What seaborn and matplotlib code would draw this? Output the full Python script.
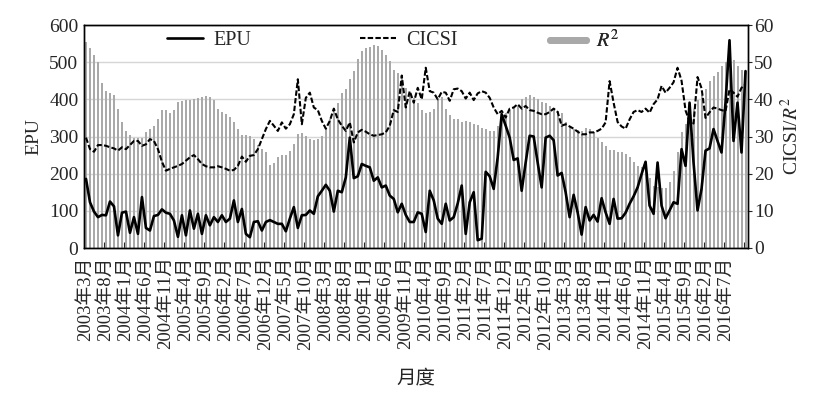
import numpy as np
import pandas as pd
import matplotlib
matplotlib.use("Agg")
import matplotlib.pyplot as plt
import seaborn as sns
from matplotlib.lines import Line2D

# ---------------- data ----------------
months = pd.period_range("2003-03", periods=166, freq="M")
month_labels = [f"{p.year}年{p.month}月" for p in months]

epu = [186, 123, 98, 83, 89, 88, 125, 112, 34, 95, 98, 41, 83, 38, 137, 54, 47, 86, 89, 104, 95, 92, 74, 30,
       88, 34, 101, 52, 92, 38, 88, 61, 83, 70, 88, 70, 79, 128, 70, 105, 38, 29, 70, 72, 47, 70, 75,
       70, 65, 65, 45, 79, 110, 54, 88, 89, 101, 92, 139, 154, 170, 154, 98, 154, 150, 190, 297, 188, 193, 226, 221,
       217, 181, 190, 163, 168, 141, 132, 96, 119, 89, 70, 70, 96, 92, 43, 154, 128, 79, 65, 119, 74, 83, 120,
       168, 38, 123, 150, 21, 25, 205, 193, 159, 244, 360, 329, 297, 237, 241, 154, 230, 302, 300, 230, 163, 297, 302, 290,
       195, 202, 150, 83, 143, 96, 36, 110, 74, 89, 71, 134, 96, 65, 132, 79, 80, 95, 119, 139, 163, 199, 232,
       114, 92, 230, 114, 80, 101, 123, 119, 266, 221, 391, 230, 101, 159, 262, 268, 320, 288, 257, 391, 559, 288, 391, 257, 476]

cicsi = [29.7, 26.6, 25.9, 27.7, 27.7, 27.5, 27.1, 26.8, 26.2, 27.1, 26.6, 27.7, 28.8, 28.8, 27.5, 27.9, 29.3, 28.8, 26.6, 23.2, 20.8, 21.3, 21.7, 22.1,
         22.6, 23.5, 24.4, 25.0, 23.9, 22.6, 22.0, 21.7, 21.7, 22.0, 21.7, 21.3, 20.8, 21.0, 22.1, 24.6, 23.2, 24.8, 25.0, 26.6, 29.3, 32.0, 34.2,
         32.9, 31.5, 33.8, 32.1, 33.3, 36.0, 45.4, 33.3, 40.4, 41.8, 37.8, 37.1, 34.2, 32.1, 34.2, 37.5, 34.6, 32.9, 31.5, 33.8, 28.4, 31.1, 31.8, 31.3,
         30.6, 30.2, 30.4, 30.6, 31.1, 32.9, 37.1, 36.6, 46.4, 37.8, 42.2, 39.1, 43.1, 40.0, 48.5, 42.2, 41.8, 40.0, 42.0, 41.8, 39.6, 42.7, 42.9,
         42.2, 40.2, 41.8, 39.8, 41.6, 42.2, 41.8, 40.4, 37.8, 36.0, 36.9, 35.1, 37.5, 37.8, 38.7, 37.5, 38.2, 37.1, 36.9, 36.4, 36.0, 36.0, 36.6, 37.5,
         36.6, 32.9, 33.3, 32.7, 32.1, 31.3, 30.6, 30.6, 31.1, 31.1, 31.5, 32.1, 33.8, 44.9, 39.1, 33.9, 32.7, 32.1, 34.6, 36.6, 37.1, 36.6, 37.5,
         36.4, 38.7, 40.0, 43.6, 41.8, 43.1, 44.6, 48.5, 45.0, 37.0, 34.0, 33.5, 46.0, 43.0, 35.0, 36.5, 37.8, 37.5, 37.1, 36.8, 42.7, 41.8, 40.7, 43.1, 44.0]

r2 = [55.4, 53.7, 51.8, 50.1, 44.3, 42.2, 41.8, 41.2, 37.5, 33.9, 31.4, 30.4, 29.7, 29.5, 29.7, 31.1, 32.0, 32.7, 34.6, 37.1, 37.1, 36.3, 37.1, 39.4,
      39.5, 39.7, 39.9, 40.1, 40.3, 40.6, 40.8, 40.5, 39.9, 37.5, 36.6, 36.0, 35.3, 33.9, 32.1, 30.5, 30.4, 30.2, 29.3, 27.7, 26.6, 25.7, 22.3,
      23.0, 24.4, 25.0, 25.0, 26.2, 27.9, 30.6, 30.9, 30.2, 29.3, 29.1, 29.3, 30.2, 32.0, 34.6, 37.8, 39.1, 41.8, 42.9, 45.4, 47.6, 50.9, 52.9, 53.8,
      54.1, 54.5, 54.3, 53.4, 52.0, 50.3, 48.0, 47.1, 45.8, 43.1, 41.3, 40.4, 39.1, 37.1, 36.4, 36.6, 37.5, 40.2, 40.7, 37.5, 35.7, 34.8, 34.6,
      33.9, 34.2, 33.9, 33.3, 33.0, 32.4, 32.0, 31.5, 31.5, 32.9, 34.2, 36.4, 37.1, 37.8, 38.2, 40.2, 40.7, 41.1, 40.7, 40.2, 39.3, 39.1, 38.2, 37.8,
      36.9, 36.3, 33.8, 32.9, 32.0, 31.8, 31.5, 32.4, 32.1, 31.1, 29.5, 28.6, 27.5, 26.4, 26.4, 25.9, 25.7, 25.3, 24.4, 23.2, 22.1, 21.7, 21.3,
      18.8, 16.8, 16.3, 16.1, 16.1, 17.7, 20.8, 25.7, 31.1, 33.3, 39.1, 37.5, 39.8, 41.3, 42.9, 44.9, 46.3, 47.3, 48.9, 50.0, 50.5, 50.5, 49.1, 48.0, 47.6]

tick_labels = ["2003年3月", "2003年8月", "2004年1月", "2004年6月", "2004年11月", "2005年4月", "2005年9月",
               "2006年2月", "2006年7月", "2006年12月", "2007年5月", "2007年10月", "2008年3月", "2008年8月",
               "2009年1月", "2009年6月", "2009年11月", "2010年4月", "2010年9月", "2011年2月", "2011年7月",
               "2011年12月", "2012年5月", "2012年10月", "2013年3月", "2013年8月", "2014年1月", "2014年6月",
               "2014年11月", "2015年4月", "2015年9月", "2016年2月", "2016年7月"]

# ---------------- style ----------------
sns.set_theme(style="white")
plt.rcParams["font.family"] = ["Liberation Serif", "Noto Sans CJK SC"]
plt.rcParams["mathtext.fontset"] = "stix"
plt.rcParams["axes.unicode_minus"] = False

df = pd.DataFrame({"idx": np.arange(len(month_labels)), "month": month_labels,
                   "EPU": epu, "CICSI": cicsi, "R2": r2})

fig = plt.figure(figsize=(8.3, 3.94), dpi=100)
ax = fig.add_axes([84 / 830, 1 - 248 / 394, 663.5 / 830, 223 / 394])

bar_color = "#a9a9a9"
sns.barplot(data=df, x="idx", y="R2", native_scale=True, width=0.5, color=bar_color,
            saturation=1, ax=ax, zorder=2, linewidth=0)
sns.lineplot(data=df, x="idx", y="CICSI", ax=ax, color="black", linewidth=1.5,
             linestyle=(0, (2.6, 1.1)), zorder=4)

ax2 = ax.twinx()
sns.lineplot(data=df, x="idx", y="EPU", ax=ax2, color="black", linewidth=1.9, zorder=5)

# right axis (R2 / CICSI)
ax.yaxis.tick_right()
ax.yaxis.set_label_position("right")
ax.set_ylim(0, 60)
ax.set_yticks(range(0, 61, 10))
ax.yaxis.grid(True, color="#d6d6d6", linewidth=1.0)
ax.set_axisbelow(True)
ax.set_ylabel("CICSI/$R^2$", fontsize=14, rotation=90, labelpad=5)
ax.tick_params(axis="y", which="major", direction="out", length=3, width=0.8,
               pad=1.5, labelsize=14, right=True, left=False)

# left axis (EPU)
ax2.yaxis.tick_left()
ax2.yaxis.set_label_position("left")
ax2.set_ylim(0, 600)
ax2.set_yticks(range(0, 601, 100))
ax2.set_ylabel("EPU", fontsize=14, labelpad=5)
ax2.tick_params(axis="y", direction="out", length=0, pad=4, labelsize=14, left=True, right=False)

# x axis
ax.set_xlim(-0.5, len(month_labels) - 0.5)
ax.set_xticks(np.arange(0, len(month_labels), 5)[:len(tick_labels)])
ax.set_xticklabels(tick_labels, rotation=90, fontsize=13.5)
ax.set_xticks(np.arange(4.5, len(month_labels), 5), minor=True)
ax.tick_params(axis="x", which="major", length=0, pad=6)
ax.tick_params(axis="x", which="minor", direction="in", length=4, width=0.8, bottom=True)
ax.set_xlabel("月度", fontsize=14, labelpad=14)

for a in (ax, ax2):
    for s in a.spines.values():
        s.set_color("black")
        s.set_linewidth(1.0)

# legends (one per series, placed along the top)
h_epu = Line2D([], [], color="black", linewidth=1.9)
h_cic = Line2D([], [], color="black", linewidth=1.5, linestyle=(0, (2.6, 1.1)))
h_r2 = Line2D([], [], color=bar_color, linewidth=5)
for h, lab, xpos in [(h_epu, "EPU", 0.125), (h_cic, "CICSI", 0.416), (h_r2, "$R^2$", 0.702)]:
    lg = ax2.legend([h], [lab], loc="center left", bbox_to_anchor=(xpos, 0.93),
                    frameon=False, borderpad=0, borderaxespad=0, handlelength=1.8,
                    handletextpad=0.5, fontsize=14.5)
    ax2.add_artist(lg)

fig.savefig("out.png", dpi=100)
